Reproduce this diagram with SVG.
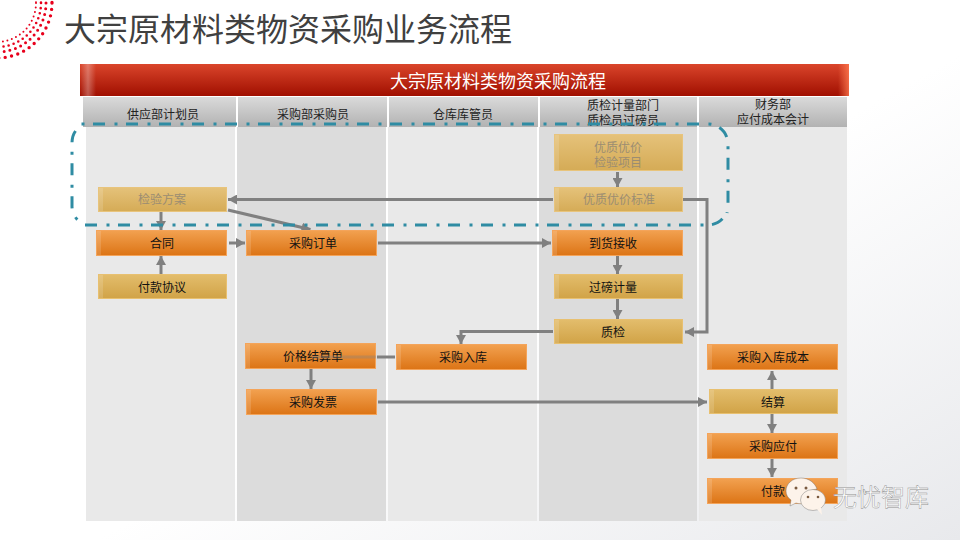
<svg xmlns="http://www.w3.org/2000/svg" width="960" height="540" viewBox="0 0 960 540">
<style>
text{font-family:"Noto Sans CJK SC","Liberation Sans",sans-serif;text-anchor:middle}
.t{font-size:12px;fill:#111}
.f{font-size:12px;fill:#9b8d72}
.h{font-size:12px;fill:#222}
.c{fill:none;stroke:#808080;stroke-width:3}
.a{marker-end:url(#arr)}
.or{fill:url(#gO);stroke:#f4a45a;stroke-width:1}
.ye{fill:url(#gY);stroke:#e8c070;stroke-width:1}
.fa{fill:url(#gF);stroke:#e8c47c;stroke-width:1}
.s{fill:#fff;opacity:.14}
.hd{fill:url(#gH)}
.dot{fill:none;stroke:#e8001c;stroke-linecap:round}
.r{fill:none;stroke:#2f8ca3;stroke-width:3;stroke-dasharray:12 9.500 3 8.500}
</style>
<defs>
<linearGradient id="gO" x1="0" y1="0" x2="0" y2="1"><stop offset="0" stop-color="#f2a150"/><stop offset="1" stop-color="#dc7415"/></linearGradient>
<linearGradient id="gY" x1="0" y1="0" x2="0" y2="1"><stop offset="0" stop-color="#e3bd6c"/><stop offset="1" stop-color="#d1a347"/></linearGradient>
<linearGradient id="gF" x1="0" y1="0" x2="0" y2="1"><stop offset="0" stop-color="#e5c27a"/><stop offset="1" stop-color="#d5ab56"/></linearGradient>
<linearGradient id="gH" x1="0" y1="0" x2="0" y2="1"><stop offset="0" stop-color="#dadada"/><stop offset="1" stop-color="#b2b2b2"/></linearGradient>
<linearGradient id="gR" x1="0" y1="0" x2="0" y2="1"><stop offset="0" stop-color="#da452b"/><stop offset="1" stop-color="#a00f00"/></linearGradient>
<linearGradient id="gL" x1="0" y1="0" x2="1" y2="0"><stop offset="0" stop-color="#fff" stop-opacity="0"/><stop offset=".5" stop-color="#fff" stop-opacity=".3"/><stop offset="1" stop-color="#fff" stop-opacity="0"/></linearGradient>
<linearGradient id="gE" x1="0" y1="0" x2="1" y2="0"><stop offset="0" stop-color="#ff7a50" stop-opacity="0"/><stop offset="1" stop-color="#ff7a50" stop-opacity=".8"/></linearGradient>
<linearGradient id="gB" x1="0.55" y1="0.55" x2="1" y2="1"><stop offset="0" stop-color="#fff"/><stop offset="1" stop-color="#e8e9ec"/></linearGradient>
<marker id="arr" viewBox="0 0 9 10" refX="9" refY="5" markerWidth="9" markerHeight="10" markerUnits="userSpaceOnUse" orient="auto"><path d="M0 0L9 5L0 10Z" fill="#808080"/></marker>
</defs>
<rect width="960" height="540" fill="url(#gB)"/>
<g id="logo">
<circle class="dot" cx="-3" cy="3" r="39" stroke-width="2" stroke-dasharray="0 4.600"/>
<circle class="dot" cx="-3" cy="3" r="44" stroke-width="2.600" stroke-dasharray="0 5.200"/>
<circle class="dot" cx="-3" cy="3" r="49" stroke-width="3" stroke-dasharray="0 5.800"/>
<circle class="dot" cx="-3" cy="3" r="55" stroke-width="3.400" stroke-dasharray="0 6.500"/>
</g>
<text x="288" y="41" style="font-size:32px;fill:#404040">大宗原材料类物资采购业务流程</text>
<g id="banner">
<rect x="80" y="64" width="769" height="32" fill="url(#gR)"/>
<rect x="80" y="64" width="16" height="32" fill="url(#gL)"/>
<rect x="838" y="64" width="11" height="32" fill="url(#gE)"/>
<text x="498" y="88" style="font-size:18px;fill:#fff">大宗原材料类物资采购流程</text>
</g>
<g id="columns">
<rect x="86" y="127" width="149" height="394" fill="#e9e9e9"/>
<rect x="237" y="127" width="149" height="394" fill="#dcdcdc"/>
<rect x="388" y="127" width="149" height="394" fill="#e9e9e9"/>
<rect x="539" y="127" width="158" height="394" fill="#dcdcdc"/>
<rect x="699" y="127" width="148" height="394" fill="#e9e9e9"/>
<rect class="hd" x="83" y="97" width="153" height="30"/>
<rect class="hd" x="238" y="97" width="149" height="30"/>
<rect class="hd" x="389" y="97" width="149" height="30"/>
<rect class="hd" x="540" y="97" width="157" height="30"/>
<rect class="hd" x="699" y="97" width="148" height="30"/>
<text class="h" x="163" y="119">供应部计划员</text>
<text class="h" x="313" y="119">采购部采购员</text>
<text class="h" x="463" y="119">仓库库管员</text>
<text class="h" x="623" y="110">质检计量部门</text>
<text class="h" x="623" y="125">质检员过磅员</text>
<text class="h" x="773" y="109">财务部</text>
<text class="h" x="773" y="124">应付成本会计</text>
</g>
<g id="connectors">
<path class="c a" d="M553 199.500H228"/>
<path class="c a" d="M683 199.500H707V332H685"/>
<path class="c a" d="M228 210L310.500 229.500"/>
<path class="c a" d="M161 212V230"/>
<path class="c a" d="M161 274V256"/>
<path class="c a" d="M229 243H245"/>
<path class="c a" d="M378 243H551"/>
<path class="c a" d="M617.500 172V187"/>
<path class="c a" d="M617.500 256V274"/>
<path class="c a" d="M617.500 299V319"/>
<path class="c a" d="M553 331.500H461V344"/>
<path class="c" d="M395 357H377"/>
<path class="c a" d="M311 369V389"/>
<path class="c a" d="M378 402H707"/>
<path class="c a" d="M772 389V371"/>
<path class="c a" d="M772 414V433"/>
<path class="c a" d="M772 459V477"/>
</g>
<g id="n1"><rect class="fa" x="98.500" y="187.500" width="128" height="24"/><rect class="s" x="99" y="188" width="4" height="23"/><text class="f" x="162" y="204">检验方案</text></g>
<g id="n2"><rect class="or" x="96.500" y="230.500" width="130" height="25"/><rect class="s" x="97" y="231" width="4" height="24"/><text class="t" x="162" y="248">合同</text></g>
<g id="n3"><rect class="ye" x="98.500" y="274.500" width="128" height="24"/><rect class="s" x="99" y="275" width="4" height="23"/><text class="t" x="162" y="292">付款协议</text></g>
<g id="n4"><rect class="or" x="246.500" y="230.500" width="130" height="25"/><rect class="s" x="247" y="231" width="4" height="24"/><text class="t" x="313" y="248">采购订单</text></g>
<g id="n5"><rect class="fa" x="554.500" y="134.500" width="128" height="36"/><rect class="s" x="555" y="135" width="4" height="35"/><text class="f" x="618" y="152">优质优价</text><text class="f" x="618" y="167">检验项目</text></g>
<g id="n6"><rect class="fa" x="554.500" y="187.500" width="128" height="24"/><rect class="s" x="555" y="188" width="4" height="23"/><text class="f" x="619" y="204">优质优价标准</text></g>
<g id="n7"><rect class="or" x="552.500" y="230.500" width="130" height="25"/><rect class="s" x="553" y="231" width="4" height="24"/><text class="t" x="613" y="248">到货接收</text></g>
<g id="n8"><rect class="ye" x="554.500" y="274.500" width="128" height="24"/><rect class="s" x="555" y="275" width="4" height="23"/><text class="t" x="613" y="292">过磅计量</text></g>
<g id="n9"><rect class="ye" x="554.500" y="319.500" width="128" height="24"/><rect class="s" x="555" y="320" width="4" height="23"/><text class="t" x="613" y="337">质检</text></g>
<g id="n10"><rect class="or" x="245.500" y="343.500" width="130" height="25"/><rect class="s" x="246" y="344" width="4" height="24"/><text class="t" x="313" y="361">价格结算单</text><path d="M312 357H376" stroke="#808080" stroke-width="3" opacity=".35" fill="none"/></g>
<g id="n11"><rect class="or" x="396.500" y="344.500" width="130" height="25"/><rect class="s" x="397" y="345" width="4" height="24"/><text class="t" x="463" y="362">采购入库</text></g>
<g id="n12"><rect class="or" x="246.500" y="389.500" width="130" height="25"/><rect class="s" x="247" y="390" width="4" height="24"/><text class="t" x="313" y="407">采购发票</text></g>
<g id="n13"><rect class="or" x="707.500" y="344.500" width="130" height="25"/><rect class="s" x="708" y="345" width="4" height="24"/><text class="t" x="773" y="362">采购入库成本</text></g>
<g id="n14"><rect class="ye" x="709.500" y="389.500" width="128" height="24"/><rect class="s" x="710" y="390" width="4" height="23"/><text class="t" x="773" y="407">结算</text></g>
<g id="n15"><rect class="or" x="707.500" y="433.500" width="130" height="25"/><rect class="s" x="708" y="434" width="4" height="24"/><text class="t" x="773" y="451">采购应付</text></g>
<g id="n16"><rect class="or" x="707.500" y="478.500" width="130" height="25"/><rect class="s" x="708" y="479" width="4" height="24"/><text class="t" x="773" y="496">付款</text></g>
<g id="region">
<path class="r" style="stroke-dasharray:3 8.500 12 9.500" d="M81.500 124H708A20 20 0 0 1 728 144V205Q728 209 727 213"/>
<path class="r" d="M85 225H708A20 20 0 0 0 724 217"/>
<path class="r" d="M75.500 131Q72 136 72 143V205A20 20 0 0 0 80 222"/>
</g>
<g id="watermark">
<path d="M801 478c-9 0-15 6-15 13c0 4 2 7 5 9l-1 6l6-3c3 1 6 1 8 0c-1-9 5-13 13-14c-2-6-8-11-16-11z" fill="#fdf3ea" stroke="#666" stroke-width=".4"/>
<ellipse cx="813" cy="500" rx="12.500" ry="10.500" fill="#fdf3ea" stroke="#666" stroke-width=".4"/>
<path d="M817 509l5 6l-1-8z" fill="#fdf3ea"/>
<circle cx="796" cy="488" r="1.500" fill="#7a5a40"/><circle cx="806" cy="488" r="1.500" fill="#7a5a40"/>
<circle cx="808" cy="497" r="1.300" fill="#7a5a40"/><circle cx="818" cy="497" r="1.300" fill="#7a5a40"/>
<text x="881" y="506" style="font-size:24px;fill:#fff;stroke:#888;stroke-width:.4">无忧智库</text>
</g>
</svg>
